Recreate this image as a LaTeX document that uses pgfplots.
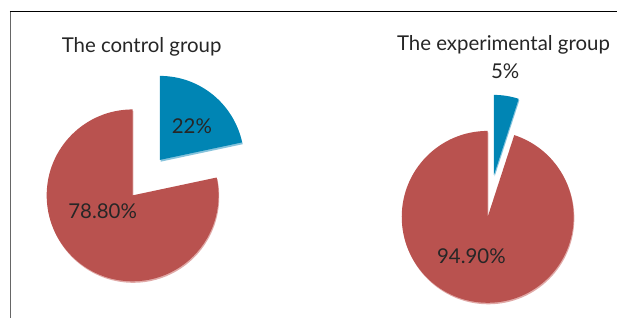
\documentclass[border=0pt]{standalone}
\usepackage{pgfplots}
\pgfplotsset{compat=1.18}
\usepackage{fontspec}
\setmainfont{Lato}
\definecolor{pieRed}{HTML}{B9524F}
\definecolor{pieRedRim}{HTML}{E0A9A7}
\definecolor{pieBlue}{HTML}{0085B4}
\definecolor{pieBlueRim}{HTML}{86C3DC}
\definecolor{txt}{HTML}{262626}
\begin{document}
\begin{tikzpicture}
\begin{axis}[
  width=617bp, height=318bp, scale only axis,
  xmin=0, xmax=617, ymin=0, ymax=318,
  hide axis, clip=false, no markers,
]
\path (axis cs:0,0) rectangle (axis cs:617,318);
% frame
\addplot[gray!80!black, line width=0.9bp] coordinates {(10,0) (10,307)};
\addplot[black, line width=0.8bp] coordinates {(10,307) (617,307)};
% ---- control group: 78.8% red, 22% blue (exploded)
\addplot[fill=pieRedRim, draw=none] coordinates {(133.4,121.0) (133.4,207.0)} arc[start angle=90, end angle=372, radius=86bp] -- cycle;
\addplot[fill=pieRed, draw=none] coordinates {(132.7,122.5) (132.7,208.5)} arc[start angle=90, end angle=372, radius=86bp] -- cycle;
\addplot[fill=pieBlueRim, draw=none] coordinates {(160.7,156.2) (242.9,173.7)} arc[start angle=12, end angle=90, radius=84bp] -- cycle;
\addplot[fill=pieBlue, draw=none] coordinates {(160,158) (242.2,175.5)} arc[start angle=12, end angle=90, radius=84bp] -- cycle;
% ---- experimental group: 94.9% red, 5% blue (exploded)
\addplot[fill=pieRedRim, draw=none] coordinates {(488.7,99.5) (488.7,185.5)} arc[start angle=90, end angle=432, radius=86bp] -- cycle;
\addplot[fill=pieRed, draw=none] coordinates {(488,101) (488,187)} arc[start angle=90, end angle=432, radius=86bp] -- cycle;
\addplot[fill=pieBlueRim, draw=none] coordinates {(495.0,141.5) (519.7,217.6)} arc[start angle=72, end angle=90, radius=80bp] -- cycle;
\addplot[fill=pieBlue, draw=none] coordinates {(494.3,143) (519.0,219.1)} arc[start angle=72, end angle=90, radius=80bp] -- cycle;
% labels
\node[txt, font=\fontsize{20.5}{24}\selectfont] at (axis cs:141.7,271.3) {The control group};
\node[txt, font=\fontsize{20.5}{24}\selectfont] at (axis cs:503.8,273) {The experimental group};
\node[txt, font=\fontsize{20.5}{24}\selectfont] at (axis cs:192,191.3) {22\%};
\node[txt, font=\fontsize{20.5}{24}\selectfont] at (axis cs:102.7,106.3) {78.80\%};
\node[txt, font=\fontsize{20.5}{24}\selectfont] at (axis cs:471.7,61.3) {94.90\%};
\node[txt, font=\fontsize{20.5}{24}\selectfont] at (axis cs:505.5,246.3) {5\%};
\end{axis}
\end{tikzpicture}
\end{document}
